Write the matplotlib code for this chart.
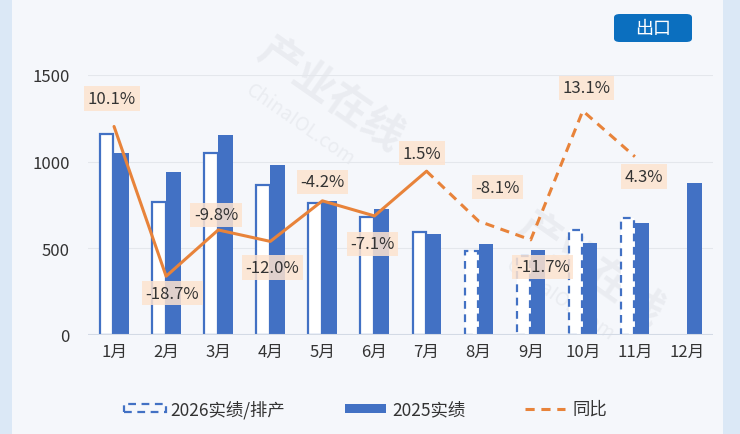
import matplotlib
matplotlib.use('Agg')
import matplotlib.pyplot as plt
from matplotlib.patches import Rectangle, FancyBboxPatch
from matplotlib.lines import Line2D
import numpy as np

plt.rcParams['font.family'] = ['Noto Sans CJK SC', 'DejaVu Sans']

# ---------------- data ----------------
months = ['1月', '2月', '3月', '4月', '5月', '6月', '7月', '8月', '9月', '10月', '11月', '12月']
v2026 = [1160, 767, 1050, 865, 760, 681, 594, 485, 455, 606, 675]        # 2026实绩/排产 (Jan-Nov)
v2025 = [1050, 940, 1154, 981, 775, 727, 583, 525, 492, 531, 646, 877]   # 2025实绩
yoy = [10.1, -18.7, -9.8, -12.0, -4.2, -7.1, 1.5, -8.1, -11.7, 13.1, 4.3]  # 同比 %
n_actual = 7   # Jan-Jul actual, Aug-Nov scheduled
yticks = [0, 500, 1000, 1500]
legend_labels = ['2026实绩/排产', '2025实绩', '同比']
badge_text = '出口'

# ---------------- style ----------------
BLUE = '#4271c4'
ORANGE = '#e8833a'
TXT = '#333333'
W, H = 740, 435

fig = plt.figure(figsize=(W / 100, H / 100), dpi=100)
fig.patch.set_facecolor('#dbe8f6')

def fx(px):
    return px / W

def fy(py):
    return 1 - py / H

# card background
fig.patches.append(Rectangle((fx(12), 0), fx(723) - fx(12), 1, transform=fig.transFigure,
                             facecolor='#f5f7fb', edgecolor='none', zorder=-5))

# watermark (faint)
for (wx, wy, sx, sy) in [(330, 95, 300, 125), (590, 270, 560, 300)]:
    fig.text(fx(wx), fy(wy), '产业在线', rotation=-35, fontsize=30, color='#9aa0a8', alpha=0.12,
             ha='center', va='center', fontweight='bold', zorder=-1)
    fig.text(fx(sx), fy(sy), 'ChinaIOL.com', rotation=-35, fontsize=14, color='#9aa0a8', alpha=0.12,
             ha='center', va='center', zorder=-1)

ax = fig.add_axes([fx(88), fy(336), fx(713) - fx(88), fy(76) - fy(336)])
ax.set_facecolor('none')
ax.set_xlim(-0.5, 11.5)
ax.set_ylim(0, 1500)

x = np.arange(len(months))
bw = 0.28
off = 0.14

# 2025 solid bars
ax.bar(x + off, v2025, width=bw, color=BLUE, edgecolor='none', zorder=3)

# 2026 hollow bars
x26 = np.arange(len(v2026))
for i, v in zip(x26, v2026):
    ls = '-' if i < n_actual else (0, (3.5, 2.5))
    ax.bar(i - off, v, width=bw * 0.92, facecolor='white', edgecolor=BLUE,
           linewidth=1.6, linestyle=ls, zorder=3)

ax.set_yticks(yticks)
ax.set_yticklabels([str(t) for t in yticks])
ax.set_xticks(x)
ax.set_xticklabels(months)
ax.tick_params(axis='both', length=0, labelsize=12, colors=TXT)
ax.tick_params(axis='y', pad=13)
ax.tick_params(axis='x', pad=6)
for s in ax.spines.values():
    s.set_visible(False)
ax.yaxis.grid(True, color='#e4e7ec', linewidth=0.8, zorder=0)
ax.set_axisbelow(True)
ax.axhline(0, color='#d3dae5', linewidth=1.5, zorder=4)

# YoY on secondary axis
ax2 = ax.twinx()
ax2.set_ylim(-30, 20)
ax2.set_yticks([])
for s in ax2.spines.values():
    s.set_visible(False)
xy = np.arange(len(yoy))
ax2.plot(xy[:n_actual], yoy[:n_actual], color=ORANGE, linewidth=2.2, solid_capstyle='round', zorder=5)
ax2.plot(xy[n_actual - 1:], yoy[n_actual - 1:], color=ORANGE, linewidth=2.2,
         linestyle=(0, (3, 2.2)), zorder=5)

# label offsets in pixels (layout)
offsets = [(-2, 28), (6, -17), (-2, 15), (2, -26), (0, 19), (-2, -28),
           (-5, 18), (19, 34), (12, -27), (4, 23), (9, -20)]
for i, (v, (dx, dy)) in enumerate(zip(yoy, offsets)):
    ax2.annotate(f'{v:.1f}%', xy=(i, v), xytext=(dx, dy), textcoords='offset pixels',
                 ha='center', va='center', fontsize=12, color=TXT, zorder=6,
                 bbox=dict(boxstyle='square,pad=0.22', facecolor='#fde3cf', edgecolor='none', alpha=0.85),
                 annotation_clip=False)

# badge
fig.patches.append(FancyBboxPatch((fx(614), fy(43)), fx(692) - fx(614), fy(15) - fy(43),
                                  boxstyle='round,pad=0,rounding_size=0.008',
                                  transform=fig.transFigure, facecolor='#0b6fbf', edgecolor='none', zorder=2))
fig.text(fx(653), fy(29), badge_text, color='white', fontsize=13, ha='center', va='center', zorder=3)

# legend (custom)
fig.patches.append(Rectangle((fx(124), fy(413)), fx(166) - fx(124), fy(405) - fy(413),
                             transform=fig.transFigure, facecolor='none', edgecolor=BLUE,
                             linewidth=1.6, linestyle=(0, (3.5, 2.5)), zorder=3))
fig.text(fx(170), fy(410), legend_labels[0], fontsize=12.5, color=TXT, ha='left', va='center')
fig.patches.append(Rectangle((fx(345), fy(414)), fx(386) - fx(345), fy(405) - fy(414),
                             transform=fig.transFigure, facecolor=BLUE, edgecolor='none', zorder=3))
fig.text(fx(392), fy(410), legend_labels[1], fontsize=12.5, color=TXT, ha='left', va='center')
fig.lines.append(Line2D([fx(525), fx(565)], [fy(410), fy(410)], transform=fig.transFigure,
                        color=ORANGE, linewidth=2.2, linestyle=(0, (3, 2.2))))
fig.text(fx(572), fy(410), legend_labels[2], fontsize=12.5, color=TXT, ha='left', va='center')

fig.savefig('out.png', dpi=100, facecolor=fig.get_facecolor())
